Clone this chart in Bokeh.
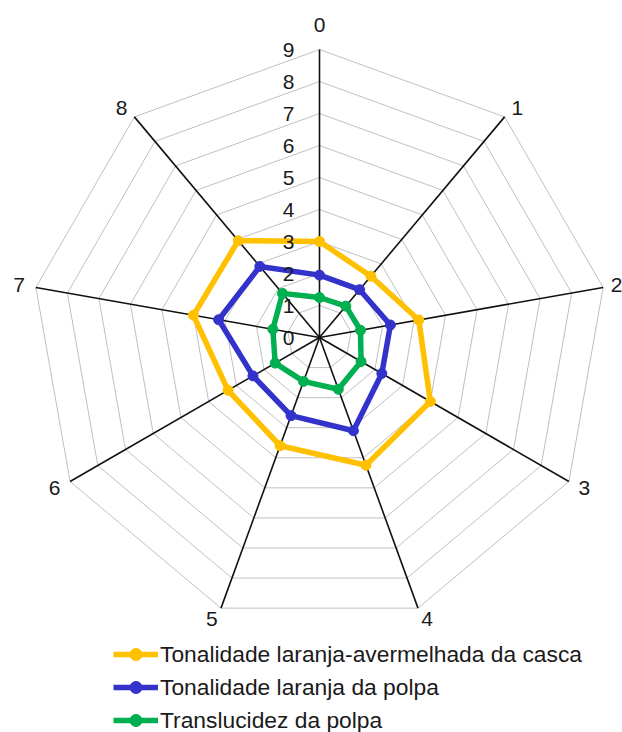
import numpy as np
from bokeh.plotting import figure
from bokeh.models import Range1d, ColumnDataSource, Legend, LegendItem
from bokeh.core.properties import value
from bokeh.embed import file_html
from bokeh.resources import INLINE

# ---- data ----
categories = ["0", "1", "2", "3", "4", "5", "6", "7", "8"]
tick_values = [0, 1, 2, 3, 4, 5, 6, 7, 8, 9]
series_names = [
    "Tonalidade laranja-avermelhada da casca",
    "Tonalidade laranja da polpa",
    "Translucidez da polpa",
]
casca = [3.0, 2.5, 3.15, 4.0, 4.25, 3.6, 3.3, 4.0, 3.95]
polpa_laranja = [1.95, 1.95, 2.25, 2.25, 3.1, 2.6, 2.4, 3.2, 2.9]
translucidez = [1.25, 1.28, 1.3, 1.5, 1.72, 1.46, 1.6, 1.48, 1.8]
series_values = [casca, polpa_laranja, translucidez]
series_colors = ["#FFC000", "#3333CC", "#00B050"]

# ---- layout ----
W, H = 622, 732
PX = 32.0            # pixels per value unit
CX, CY = 319, 337    # centre of the radar, px from top-left of the figure
RMAX = tick_values[-1]
FONT = "Liberation Sans"
TEXT_COLOR = "#1a1a1a"

p = figure(width=W, height=H, output_backend="svg", toolbar_location=None,
           x_range=Range1d(-CX / PX, (W - CX) / PX),
           y_range=Range1d(-(H - CY) / PX, CY / PX),
           x_axis_location=None, y_axis_location=None,
           min_border=0)
p.grid.visible = False
p.outline_line_color = None
p.background_fill_color = "white"

n = len(categories)
theta = 2 * np.pi * np.arange(n) / n
sx, cy = np.sin(theta), np.cos(theta)

# rings
ring_xs, ring_ys = [], []
for r in tick_values[1:]:
    ring_xs.append(list(np.append(r * sx, r * sx[0])))
    ring_ys.append(list(np.append(r * cy, r * cy[0])))
p.multi_line(ring_xs, ring_ys, line_color="#C0C0C0", line_width=1)

# spokes
p.segment(x0=np.zeros(n), y0=np.zeros(n), x1=RMAX * sx, y1=RMAX * cy,
          line_color="#111111", line_width=1.6)

# series
items = []
for name, vals, col in zip(series_names, series_values, series_colors):
    v = np.array(vals)
    xs = np.append(v * sx, v[0] * sx[0])
    ys = np.append(v * cy, v[0] * cy[0])
    ln = p.line(xs, ys, line_color=col, line_width=5.5, line_join="round")
    sc = p.scatter(v * sx, v * cy, size=10, fill_color=col, line_color=col)
    items.append(LegendItem(label=name, renderers=[ln, sc]))

# value-axis tick labels
p.text(x=[0] * len(tick_values), y=tick_values, text=[str(t) for t in tick_values],
       x_offset=-25, text_align="right", text_baseline="middle",
       text_font=value(FONT), text_font_size="21px", text_color=TEXT_COLOR)

# category labels
dx = np.where(np.abs(sx) > 0.1, 12 * sx + 5 * np.sign(sx), 0.0)
dy = -12 * cy - np.where(np.abs(sx) < 0.1, 13, 0)
lab_px = CX + RMAX * PX * sx + dx
dx = np.where(lab_px > W - 6, dx - (lab_px - (W - 6)), dx)
cat_src = ColumnDataSource(dict(x=RMAX * sx, y=RMAX * cy, text=categories, dx=dx, dy=dy))
p.text(x="x", y="y", text="text", x_offset="dx", y_offset="dy", source=cat_src,
       text_align="center", text_baseline="middle",
       text_font=value(FONT), text_font_size="21px", text_color=TEXT_COLOR)

legend = Legend(items=items, location=(113, -3), orientation="vertical",
                padding=0, margin=0, spacing=3,
                glyph_width=45, glyph_height=30, label_height=30, label_standoff=2,
                label_text_font=FONT, label_text_font_size="22.8px",
                label_text_color=TEXT_COLOR,
                border_line_alpha=0, background_fill_alpha=0)
p.add_layout(legend)

open("out.html", "w").write(file_html(p, INLINE))
